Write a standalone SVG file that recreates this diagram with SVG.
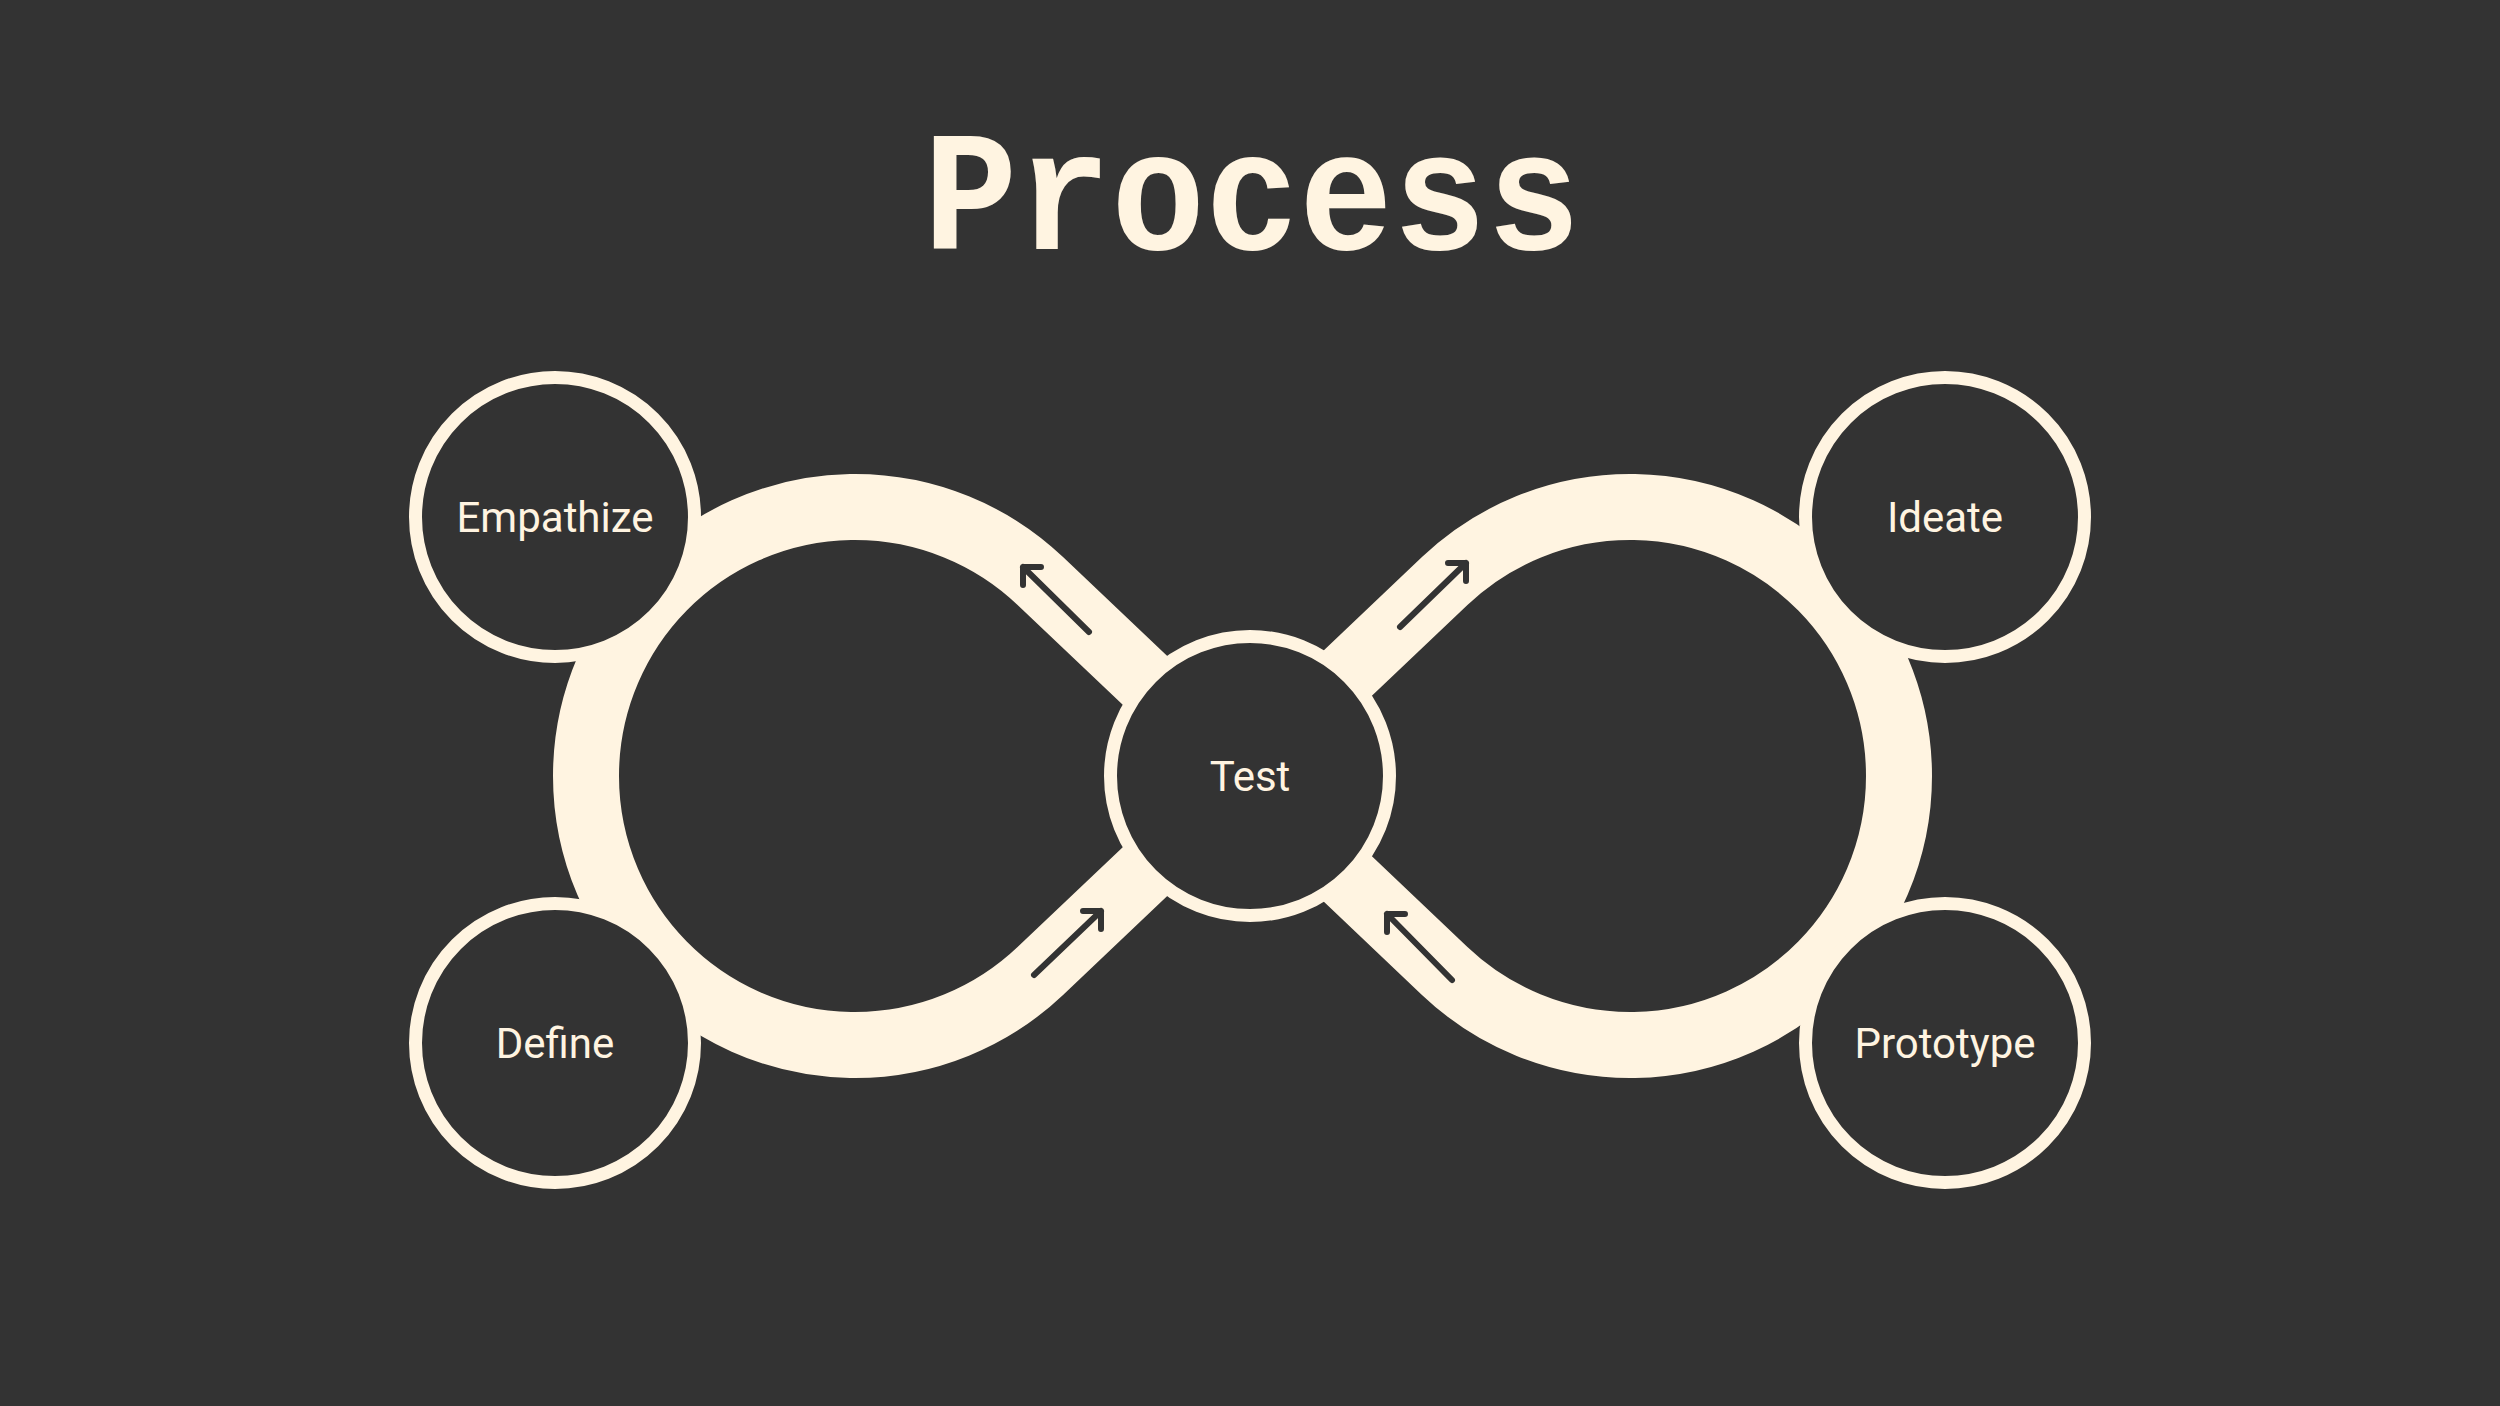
<svg xmlns="http://www.w3.org/2000/svg" width="2500" height="1406" viewBox="0 0 2500 1406">
  <defs>
    <style>
      .bg { fill: #333333; }
      .band { fill: none; stroke: #FFF4E1; stroke-width: 66; stroke-linejoin: round; }
      .arrow { fill: none; stroke: #333333; stroke-width: 6; stroke-linecap: round; stroke-linejoin: round; }
      .node circle { fill: #333333; stroke: #FFF4E1; stroke-width: 13; }
      .label { fill: #FFF4E1; font-family: Roboto, "Noto Sans", "Liberation Sans", sans-serif; font-size: 42px; text-anchor: middle; }
      .title { fill: #FFF4E1; font-family: "Liberation Mono", "DejaVu Sans Mono", monospace; font-weight: bold; font-size: 170px; text-anchor: middle; }
    </style>
  </defs>
  <rect class="bg" x="0" y="0" width="2500" height="1406"/>
  <text class="title" x="1252" y="249" textLength="657" lengthAdjust="spacingAndGlyphs">Process</text>

  <g id="connectors">
    <path class="band" d="M 1250 780 L 1040.3 581 A 269 269 0 1 0 1040.3 971 L 1250 772"/>
    <path class="band" d="M 1250 766 L 1444.7 581 A 269 269 0 1 1 1444.7 971 L 1250 786"/>
    <path class="arrow" d="M 1089 632 L 1023 567 M 1041 567 L 1023 567 L 1023 585"/>
    <path class="arrow" d="M 1400 627 L 1466 563 M 1448 563 L 1466 563 L 1466 581"/>
    <path class="arrow" d="M 1034 975 L 1101 911 M 1083 911 L 1101 911 L 1101 929"/>
    <path class="arrow" d="M 1452 980 L 1387 914 M 1405 914 L 1387 914 L 1387 932"/>
  </g>

  <g id="node-empathize" class="node">
    <circle cx="555" cy="517" r="139.5"/>
    <text class="label" x="555" y="532">Empathize</text>
  </g>
  <g id="node-define" class="node">
    <circle cx="555" cy="1043" r="139.5"/>
    <text class="label" x="555" y="1058">Define</text>
  </g>
  <g id="node-ideate" class="node">
    <circle cx="1945" cy="517" r="139.5"/>
    <text class="label" x="1945" y="532">Ideate</text>
  </g>
  <g id="node-prototype" class="node">
    <circle cx="1945" cy="1043" r="139.5"/>
    <text class="label" x="1945" y="1058">Prototype</text>
  </g>
  <g id="node-test" class="node">
    <circle cx="1250" cy="776" r="139.5"/>
    <text class="label" x="1250" y="791">Test</text>
  </g>
</svg>
